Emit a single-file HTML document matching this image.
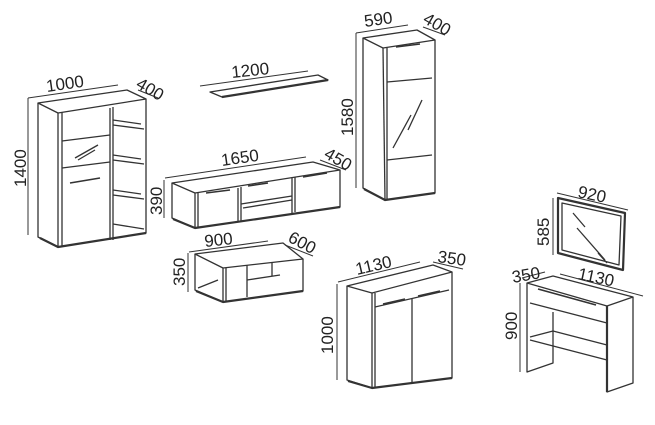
<!DOCTYPE html>
<html><head><meta charset="utf-8"><style>
html,body{margin:0;padding:0;background:#fff;}
svg{display:block;}
text{font-family:"Liberation Sans",sans-serif;font-size:17px;fill:#222;}
.l{fill:none;stroke:#333;stroke-width:1.3;stroke-linejoin:round;}
.t{fill:none;stroke:#333;stroke-width:2.2;stroke-linejoin:round;}
.h{fill:none;stroke:#333;stroke-width:1.6;}
.d{fill:none;stroke:#333;stroke-width:1;}
</style></head><body>
<svg width="655" height="425" viewBox="0 0 655 425">
<!-- Bookcase -->
<polygon class="l" points="38,103 127,90 146,99 58,113"/>
<polyline class="l" points="38,103 38,237 58,247 146,233 146,99"/>
<polyline class="t" points="40,238 58,247 146,233"/>
<line class="l" x1="58" y1="113" x2="58" y2="247"/>
<line class="l" x1="62" y1="112" x2="62" y2="246"/>
<line class="l" x1="110" y1="108" x2="110" y2="240"/>
<line class="l" x1="113" y1="107" x2="113" y2="240"/>
<line class="l" x1="62" y1="141" x2="110" y2="135"/>
<line class="l" x1="62" y1="168" x2="110" y2="162"/>
<line class="l" x1="75" y1="158" x2="98" y2="145"/>
<line class="l" x1="78" y1="160" x2="95" y2="150"/>
<line class="h" x1="70" y1="183" x2="100" y2="178"/>
<line class="l" x1="113" y1="125" x2="144" y2="129"/>
<line class="l" x1="113" y1="160" x2="144" y2="164"/>
<line class="l" x1="113" y1="195" x2="144" y2="199"/>
<line class="l" x1="113" y1="224" x2="144" y2="229"/>
<line class="l" x1="113" y1="120" x2="141" y2="124"/>
<line class="l" x1="113" y1="155" x2="141" y2="159"/>
<line class="l" x1="113" y1="190" x2="141" y2="194"/>
<line class="d" x1="28" y1="98" x2="118" y2="85"/>
<line class="d" x1="28" y1="98" x2="28" y2="235"/>
<line class="d" x1="138" y1="90" x2="158" y2="98"/>
<text x="47" y="92" transform="rotate(-8 47 92)">1000</text>
<text x="135" y="87" transform="rotate(30 135 87)">400</text>
<text x="26" y="187" transform="rotate(-90 26 187)">1400</text>
<!-- Wall shelf -->
<polygon class="l" points="210,92 318,75 328,80 222,97"/>
<line class="t" x1="222" y1="97" x2="328" y2="80"/>
<line class="d" x1="200" y1="86" x2="308" y2="71"/>
<text x="232" y="78" transform="rotate(-6 232 78)">1200</text>
<!-- Tall cabinet -->
<polygon class="l" points="363,38 417,30 435,40 383,48"/>
<polyline class="l" points="363,38 363,188 385,200 435,193 435,40"/>
<polyline class="t" points="364,189 385,200 435,193"/>
<line class="l" x1="383" y1="48" x2="385" y2="200"/>
<line class="l" x1="387" y1="48" x2="387" y2="199"/>
<line class="l" x1="387" y1="82" x2="432" y2="78"/>
<line class="l" x1="387" y1="160" x2="432" y2="155"/>
<line class="h" x1="396" y1="47" x2="420" y2="44"/>
<line class="l" x1="393" y1="148" x2="411" y2="115"/>
<line class="l" x1="408" y1="130" x2="422" y2="100"/>
<line class="d" x1="356" y1="33" x2="408" y2="25"/>
<line class="d" x1="356" y1="33" x2="356" y2="188"/>
<line class="d" x1="423" y1="27" x2="445" y2="35"/>
<text x="365" y="27" transform="rotate(-8 365 27)">590</text>
<text x="422" y="22" transform="rotate(30 422 22)">400</text>
<text x="353" y="136" transform="rotate(-90 353 136)">1580</text>
<!-- TV unit -->
<polygon class="l" points="172,183 313,162 340,170 195,193"/>
<polyline class="l" points="172,183 172,218 195,228 340,207 340,170"/>
<polyline class="t" points="173,219 195,228 340,207"/>
<line class="l" x1="195" y1="193" x2="195" y2="228"/>
<line class="l" x1="198" y1="193" x2="198" y2="227"/>
<line class="l" x1="238" y1="188" x2="238" y2="222"/>
<line class="l" x1="241" y1="187" x2="241" y2="221"/>
<line class="l" x1="292" y1="178" x2="292" y2="213"/>
<line class="l" x1="295" y1="177" x2="295" y2="212"/>
<line class="l" x1="241" y1="204" x2="292" y2="196"/>
<line class="l" x1="243" y1="208" x2="292" y2="200"/>
<line class="h" x1="206" y1="193" x2="230" y2="190"/>
<line class="h" x1="303" y1="177" x2="327" y2="173"/>
<line class="h" x1="248" y1="186" x2="268" y2="183"/>
<line class="d" x1="165" y1="178" x2="306" y2="157"/>
<line class="d" x1="164" y1="180" x2="164" y2="218"/>
<line class="d" x1="320" y1="160" x2="346" y2="170"/>
<text x="222" y="166" transform="rotate(-8 222 166)">1650</text>
<text x="323" y="157" transform="rotate(30 323 157)">450</text>
<text x="162" y="215" transform="rotate(-90 162 215)">390</text>
<!-- Coffee table -->
<polygon class="l" points="195,254 283,243 303,259 223,268"/>
<polyline class="l" points="195,254 195,290 223,302 303,291 303,259"/>
<polyline class="t" points="196,291 223,302 303,291"/>
<line class="l" x1="223" y1="268" x2="223" y2="302"/>
<line class="l" x1="226" y1="268" x2="226" y2="301"/>
<line class="l" x1="247" y1="265" x2="247" y2="297"/>
<line class="l" x1="247" y1="280" x2="280" y2="275"/>
<line class="l" x1="272" y1="262" x2="272" y2="276"/>
<line class="l" x1="198" y1="288" x2="218" y2="280"/>
<line class="d" x1="189" y1="252" x2="268" y2="241"/>
<line class="d" x1="188" y1="253" x2="188" y2="292"/>
<line class="d" x1="285" y1="245" x2="313" y2="256"/>
<text x="205" y="247" transform="rotate(-6 205 247)">900</text>
<text x="287" y="241" transform="rotate(28 287 241)">600</text>
<text x="185" y="286" transform="rotate(-90 185 286)">350</text>
<!-- Sideboard -->
<polygon class="l" points="347,286 433,265 452,272 372,293"/>
<polyline class="l" points="347,286 347,380 372,388 452,378 452,272"/>
<polyline class="t" points="348,381 372,388 452,378"/>
<line class="l" x1="372" y1="293" x2="372" y2="388"/>
<line class="l" x1="375" y1="293" x2="375" y2="387"/>
<line class="l" x1="375" y1="307" x2="449" y2="290"/>
<line class="l" x1="412" y1="299" x2="412" y2="382"/>
<line class="h" x1="383" y1="304" x2="405" y2="299"/>
<line class="h" x1="418" y1="296" x2="440" y2="291"/>
<line class="d" x1="338" y1="282" x2="420" y2="262"/>
<line class="d" x1="337" y1="284" x2="337" y2="380"/>
<line class="d" x1="433" y1="262" x2="463" y2="269"/>
<text x="357" y="275" transform="rotate(-13 357 275)">1130</text>
<text x="437" y="262" transform="rotate(8 437 262)">350</text>
<text x="333" y="354" transform="rotate(-90 333 354)">1000</text>
<!-- Mirror -->
<polygon class="t" points="558,198 625,213 623,270 558,253"/>
<polygon class="l" points="562,203 621,216 619,265 562,250"/>
<line class="l" x1="573" y1="213" x2="585" y2="227"/>
<line class="l" x1="577" y1="228" x2="605" y2="260"/>
<line class="l" x1="598" y1="253" x2="607" y2="263"/>
<line class="d" x1="557" y1="193" x2="628" y2="210"/>
<line class="d" x1="553" y1="198" x2="553" y2="255"/>
<text x="577" y="197" transform="rotate(12 577 197)">920</text>
<text x="549" y="246" transform="rotate(-90 549 246)">585</text>
<!-- Console -->
<polygon class="l" points="527,283 553,276 633,297 607,306"/>
<polyline class="l" points="527,283 527,372 553,363 553,312"/>
<polyline class="l" points="607,306 607,392 633,383 633,297"/>
<line class="t" x1="607" y1="306" x2="607" y2="392"/>
<line class="l" x1="530" y1="303" x2="607" y2="323"/>
<line class="h" x1="538" y1="289" x2="596" y2="305"/>
<line class="l" x1="530" y1="340" x2="607" y2="360"/>
<line class="l" x1="530" y1="337" x2="553" y2="331"/>
<line class="l" x1="553" y1="331" x2="607" y2="345"/>
<line class="d" x1="520" y1="283" x2="520" y2="372"/>
<line class="d" x1="522" y1="278" x2="545" y2="272"/>
<line class="d" x1="560" y1="274" x2="643" y2="296"/>
<text x="513" y="283" transform="rotate(-10 513 283)">350</text>
<text x="577" y="279" transform="rotate(12 577 279)">1130</text>
<text x="517" y="340" transform="rotate(-90 517 340)">900</text>
</svg>
</body></html>
